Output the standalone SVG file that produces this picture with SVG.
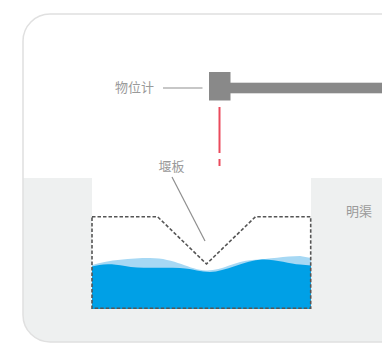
<svg xmlns="http://www.w3.org/2000/svg" width="382" height="347" viewBox="0 0 382 347">
  <style>
    .label { font-family: "Noto Sans CJK SC", "Noto Sans", sans-serif; font-size: 13px; fill: #9a9a9a; }
    .leader { stroke: #8f8f8f; stroke-width: 1.2; fill: none; }
  </style>
  <defs>
    <clipPath id="frameClip">
      <rect x="23" y="14" width="400" height="328" rx="27" ry="27"/>
    </clipPath>
    <clipPath id="weirClip">
      <rect x="92" y="178" width="219" height="131"/>
    </clipPath>
  </defs>

  <rect width="382" height="347" fill="#ffffff"/>

  <!-- frame with ground section -->
  <g id="frame">
    <g clip-path="url(#frameClip)">
      <rect x="0" y="178" width="420" height="180" fill="#eef0f0"/>
      <rect x="92" y="178" width="219" height="131" fill="#ffffff"/>
    </g>
    <rect x="23" y="14" width="400" height="328" rx="27" ry="27" fill="none" stroke="#e0e0e0" stroke-width="1.5"/>
  </g>

  <!-- water in the channel -->
  <g id="water" clip-path="url(#weirClip)">
    <path d="M92 265 C110 260 130 258 150 258 C175 258 190 270 206 270.5 C222 271 235 261 252 260 C270 259 285 256 300 256 L311 258 L311 309 L92 309 Z" fill="#a6d8f4"/>
    <path d="M92 266.5 C100 264 110 263 125 266 C140 269 160 267 180 268 C195 269 200 272 210 272 C225 272 245 260 262 259.5 C275 259 290 264 300 264.5 L311 265.5 L311 309 L92 309 Z" fill="#00a0e6"/>
  </g>

  <!-- weir plate outline -->
  <g id="weir">
    <path d="M92 216.7 H157.5 L206.5 264 L255.5 216.7 H310.7 V308.3 H92 Z" fill="none" stroke="#555555" stroke-width="1.6" stroke-dasharray="3.5 2"/>
  </g>

  <!-- level gauge and its arm -->
  <g id="gauge">
    <rect x="209" y="72" width="21.5" height="28.5" fill="#898989"/>
    <rect x="230" y="82.7" width="160" height="10.6" fill="#898989"/>
  </g>

  <!-- measuring beam and leader lines -->
  <g id="connectors">
    <line x1="219.5" y1="107" x2="219.5" y2="153" stroke="#ea4a5c" stroke-width="2"/>
    <line x1="219.5" y1="159" x2="219.5" y2="166" stroke="#ea4a5c" stroke-width="2"/>
    <line class="leader" x1="163" y1="88" x2="202.5" y2="88"/>
    <line class="leader" x1="172" y1="177" x2="205" y2="241"/>
  </g>

  <g id="label-gauge">
    <text class="label" x="115" y="92">物位计</text>
  </g>
  <g id="label-weir">
    <text class="label" x="171.5" y="171" text-anchor="middle">堰板</text>
  </g>
  <g id="label-channel">
    <text class="label" x="346" y="216">明渠</text>
  </g>
</svg>
